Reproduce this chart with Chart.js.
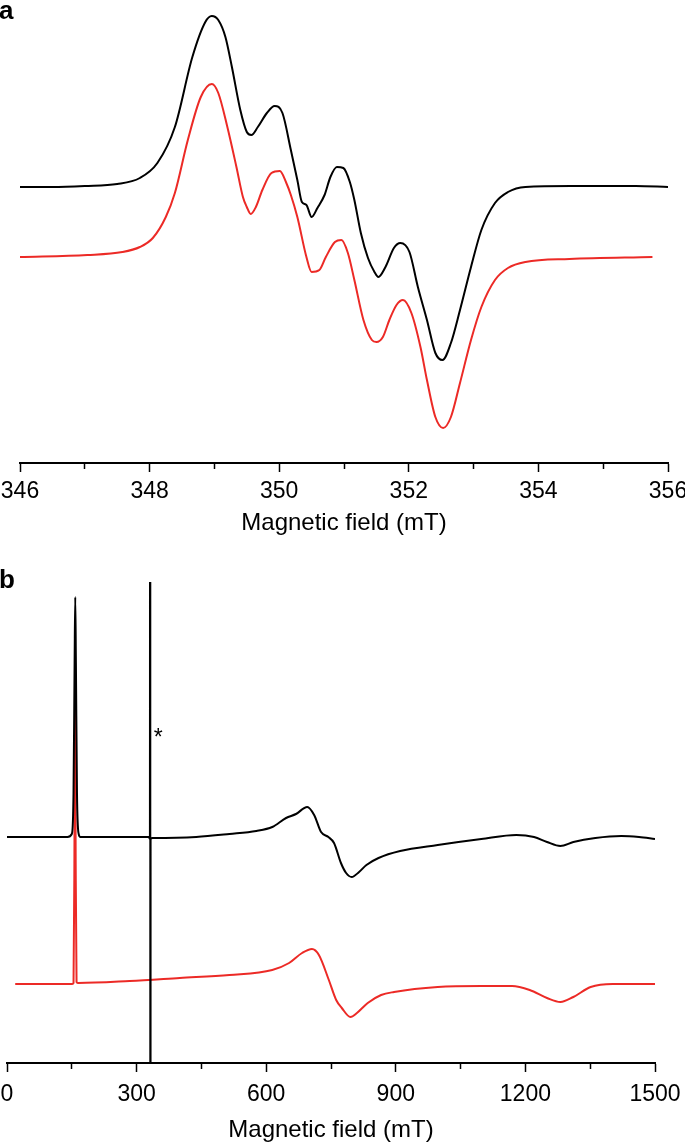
<!DOCTYPE html>
<html>
<head>
<meta charset="utf-8">
<script src="https://cdn.jsdelivr.net/npm/chart.js@4.4.1/dist/chart.umd.min.js"></script>
<style>
  html, body { margin: 0; padding: 0; background: #fff; }
  body { width: 685px; height: 1145px; position: relative; overflow: hidden; font-family: "Liberation Sans", Arial, sans-serif; }
  canvas { position: absolute; left: 0; }
  #chartA { top: 0; }
  #chartB { top: 560px; }
  .tag { position: absolute; font-weight: bold; font-size: 26px; line-height: 26px; color: #000; }
</style>
</head>
<body>
<canvas id="chartA" width="685" height="538"></canvas>
<canvas id="chartB" width="685" height="585"></canvas>
<div class="tag" style="left:-1px; top:-3px;">a</div>
<div class="tag" style="left:-1px; top:566px;">b</div>
<script>
// Painel a: varredura estreita (mT) e sinal (u.a.)
const aBlackField = [346.0, 346.5, 347.0, 347.5, 347.85, 348.12, 348.39, 348.66, 348.86, 348.96,
    349.06, 349.17, 349.27, 349.4, 349.5, 349.57, 349.67, 349.81, 349.93, 350.05,
    350.18, 350.28, 350.35, 350.42, 350.5, 350.59, 350.7, 350.79, 350.89, 350.99,
    351.09, 351.16, 351.26, 351.37, 351.47, 351.53, 351.64, 351.77, 351.87, 352.01,
    352.14, 352.28, 352.41, 352.52, 352.65, 352.79, 352.96, 353.12, 353.33, 353.53,
    353.8, 354.5, 355.5, 356.0];
const aBlackSignal = [276, 276, 277, 279, 285, 300, 336, 406, 441, 447,
    443, 426, 396, 353, 331, 328, 336, 350, 357, 350,
    313, 283, 261, 258, 246, 255, 268, 286, 296, 295,
    281, 263, 230, 205, 191, 186, 196, 215, 220, 211,
    176, 143, 110, 103, 120, 153, 196, 233, 260, 271,
    276, 277, 277, 276];
const aRedField = [346.0, 347.04, 347.58, 347.85, 348.05, 348.25, 348.39, 348.59, 348.79, 348.96,
    349.06, 349.2, 349.34, 349.44, 349.5, 349.56, 349.64, 349.74, 349.88, 350.01,
    350.11, 350.18, 350.28, 350.42, 350.5, 350.62, 350.72, 350.86, 350.96, 351.06,
    351.16, 351.3, 351.43, 351.5, 351.6, 351.7, 351.81, 351.91, 352.04, 352.18,
    352.28, 352.41, 352.53, 352.65, 352.79, 352.96, 353.12, 353.33, 353.53, 353.8,
    354.48, 355.76];
const aRedSignal = [206, 208, 211, 216, 225, 246, 270, 323, 366, 379,
    370, 336, 296, 266, 256, 249, 256, 273, 290, 292,
    280, 268, 246, 206, 191, 193, 206, 221, 223, 210,
    183, 143, 123, 121, 126, 143, 158, 163, 150, 116,
    83, 46, 35, 46, 80, 123, 156, 183, 195, 201,
    204, 206];
const aTickLabels = [346, 348, 350, 352, 354, 356];

// Painel b: varredura larga
const bBlackField = [0, 140, 150, 154, 156.5, 158, 159.5, 162, 166, 170,
    284, 328, 330.8, 331.6, 331.8, 332.4, 337,
    438, 515, 577, 614, 646, 669, 695, 711, 727, 744,
    757, 773, 785, 798, 815, 832, 860, 910, 997, 1098,
    1179, 1220, 1250, 1281, 1311, 1362, 1422, 1463, 1500];
const bBlackSignal = [226, 226, 229, 270, 400, 466, 400, 270, 229, 226,
    226, 226, 224, 1500, -1000, 224, 225,
    226, 229, 232, 236, 245, 249, 256, 248, 231, 226,
    220, 200, 190, 186, 191, 198, 205, 212, 218, 224,
    228, 226, 221, 217, 221, 225, 227, 226, 224];
const bRedField = [19, 150, 154, 156, 157.5, 159, 161, 165,
    284, 400, 515, 614, 653, 683, 706, 722,
    745, 762, 775, 795, 810, 835, 866, 896,
    997, 1098, 1169, 1210, 1250, 1281, 1311, 1351, 1402, 1500];
const bRedSignal = [79, 79, 80, 200, 363, 200, 81, 80,
    82, 85, 88, 93, 100, 110, 114, 108,
    83, 63, 55, 46, 50, 60, 68, 71,
    76, 77, 77, 73, 65, 61, 66, 76, 79, 79];
const bTickLabels = [0, 300, 600, 900, 1200, 1500];

// marcador "*" do sinal de referência
const starField = 350;
const starSignal = 318;

const FONT = '"Liberation Sans", Arial, Helvetica, sans-serif';
const BLACK = '#000000';
const RED = '#ec2a26';

function toPoints(xs, ys) {
    return xs.map((x, i) => ({ x: x, y: ys[i] }));
}

function lineSet(xs, ys, color) {
    return {
        data: toPoints(xs, ys),
        borderColor: color,
        borderWidth: 2,
        pointRadius: 0,
        fill: false,
        cubicInterpolationMode: 'monotone'
    };
}

function xAxis(min, max, step, labels, height, labelPad) {
    return {
        type: 'linear',
        min: min,
        max: max,
        afterFit: function(scale) {
            scale.height = height;
            scale.paddingLeft = 0;
            scale.paddingRight = 0;
        },
        ticks: {
            stepSize: step,
            autoSkip: false,
            maxRotation: 0,
            padding: labelPad,
            color: BLACK,
            font: { family: FONT, size: 23 },
            callback: function(v) {
                const r = Math.round(v);
                return labels.includes(r) ? String(r) : '';
            }
        },
        grid: {
            drawOnChartArea: false,
            drawTicks: true,
            tickLength: 9,
            tickWidth: 1.5,
            tickColor: BLACK,
            tickBorderDash: function(ctx) {
                if (!ctx.tick) return [];
                return labels.includes(Math.round(ctx.tick.value)) ? [] : [5, 40];
            }
        },
        border: { display: true, color: BLACK, width: 2 },
        title: {
            display: true,
            text: 'Magnetic field (mT)',
            color: BLACK,
            font: { family: FONT, size: 24 },
            padding: { top: 0, bottom: 0 }
        }
    };
}

const starPlugin = {
    id: 'star',
    afterDatasetsDraw(chart) {
        const ctx = chart.ctx;
        ctx.save();
        ctx.font = '23px ' + FONT;
        ctx.fillStyle = BLACK;
        ctx.textAlign = 'center';
        ctx.textBaseline = 'alphabetic';
        ctx.fillText('*', chart.scales.x.getPixelForValue(starField), chart.scales.y.getPixelForValue(starSignal));
        ctx.restore();
    }
};

const commonOpts = {
    responsive: false,
    animation: false,
    events: [],
    plugins: { legend: { display: false }, tooltip: { enabled: false } }
};

new Chart(document.getElementById('chartA'), {
    type: 'line',
    data: {
        datasets: [
            lineSet(aBlackField, aBlackSignal, BLACK),
            lineSet(aRedField, aRedSignal, RED)
        ]
    },
    options: Object.assign({}, commonOpts, {
        layout: { padding: { left: 20, right: 17, top: 0, bottom: 0 } },
        scales: {
            x: xAxis(346, 356, 1, aTickLabels, 75, 6),
            y: { display: false, min: 0, max: 463 }
        }
    })
});

new Chart(document.getElementById('chartB'), {
    type: 'line',
    data: {
        datasets: [
            lineSet(bBlackField, bBlackSignal, BLACK),
            lineSet(bRedField, bRedSignal, RED)
        ]
    },
    options: Object.assign({}, commonOpts, {
        layout: { padding: { left: 7, right: 30, top: 22, bottom: 0 } },
        scales: {
            x: xAxis(0, 1500, 150, bTickLabels, 82, 9),
            y: { display: false, min: 0, max: 481 }
        }
    }),
    plugins: [starPlugin]
});
</script>
</body>
</html>
